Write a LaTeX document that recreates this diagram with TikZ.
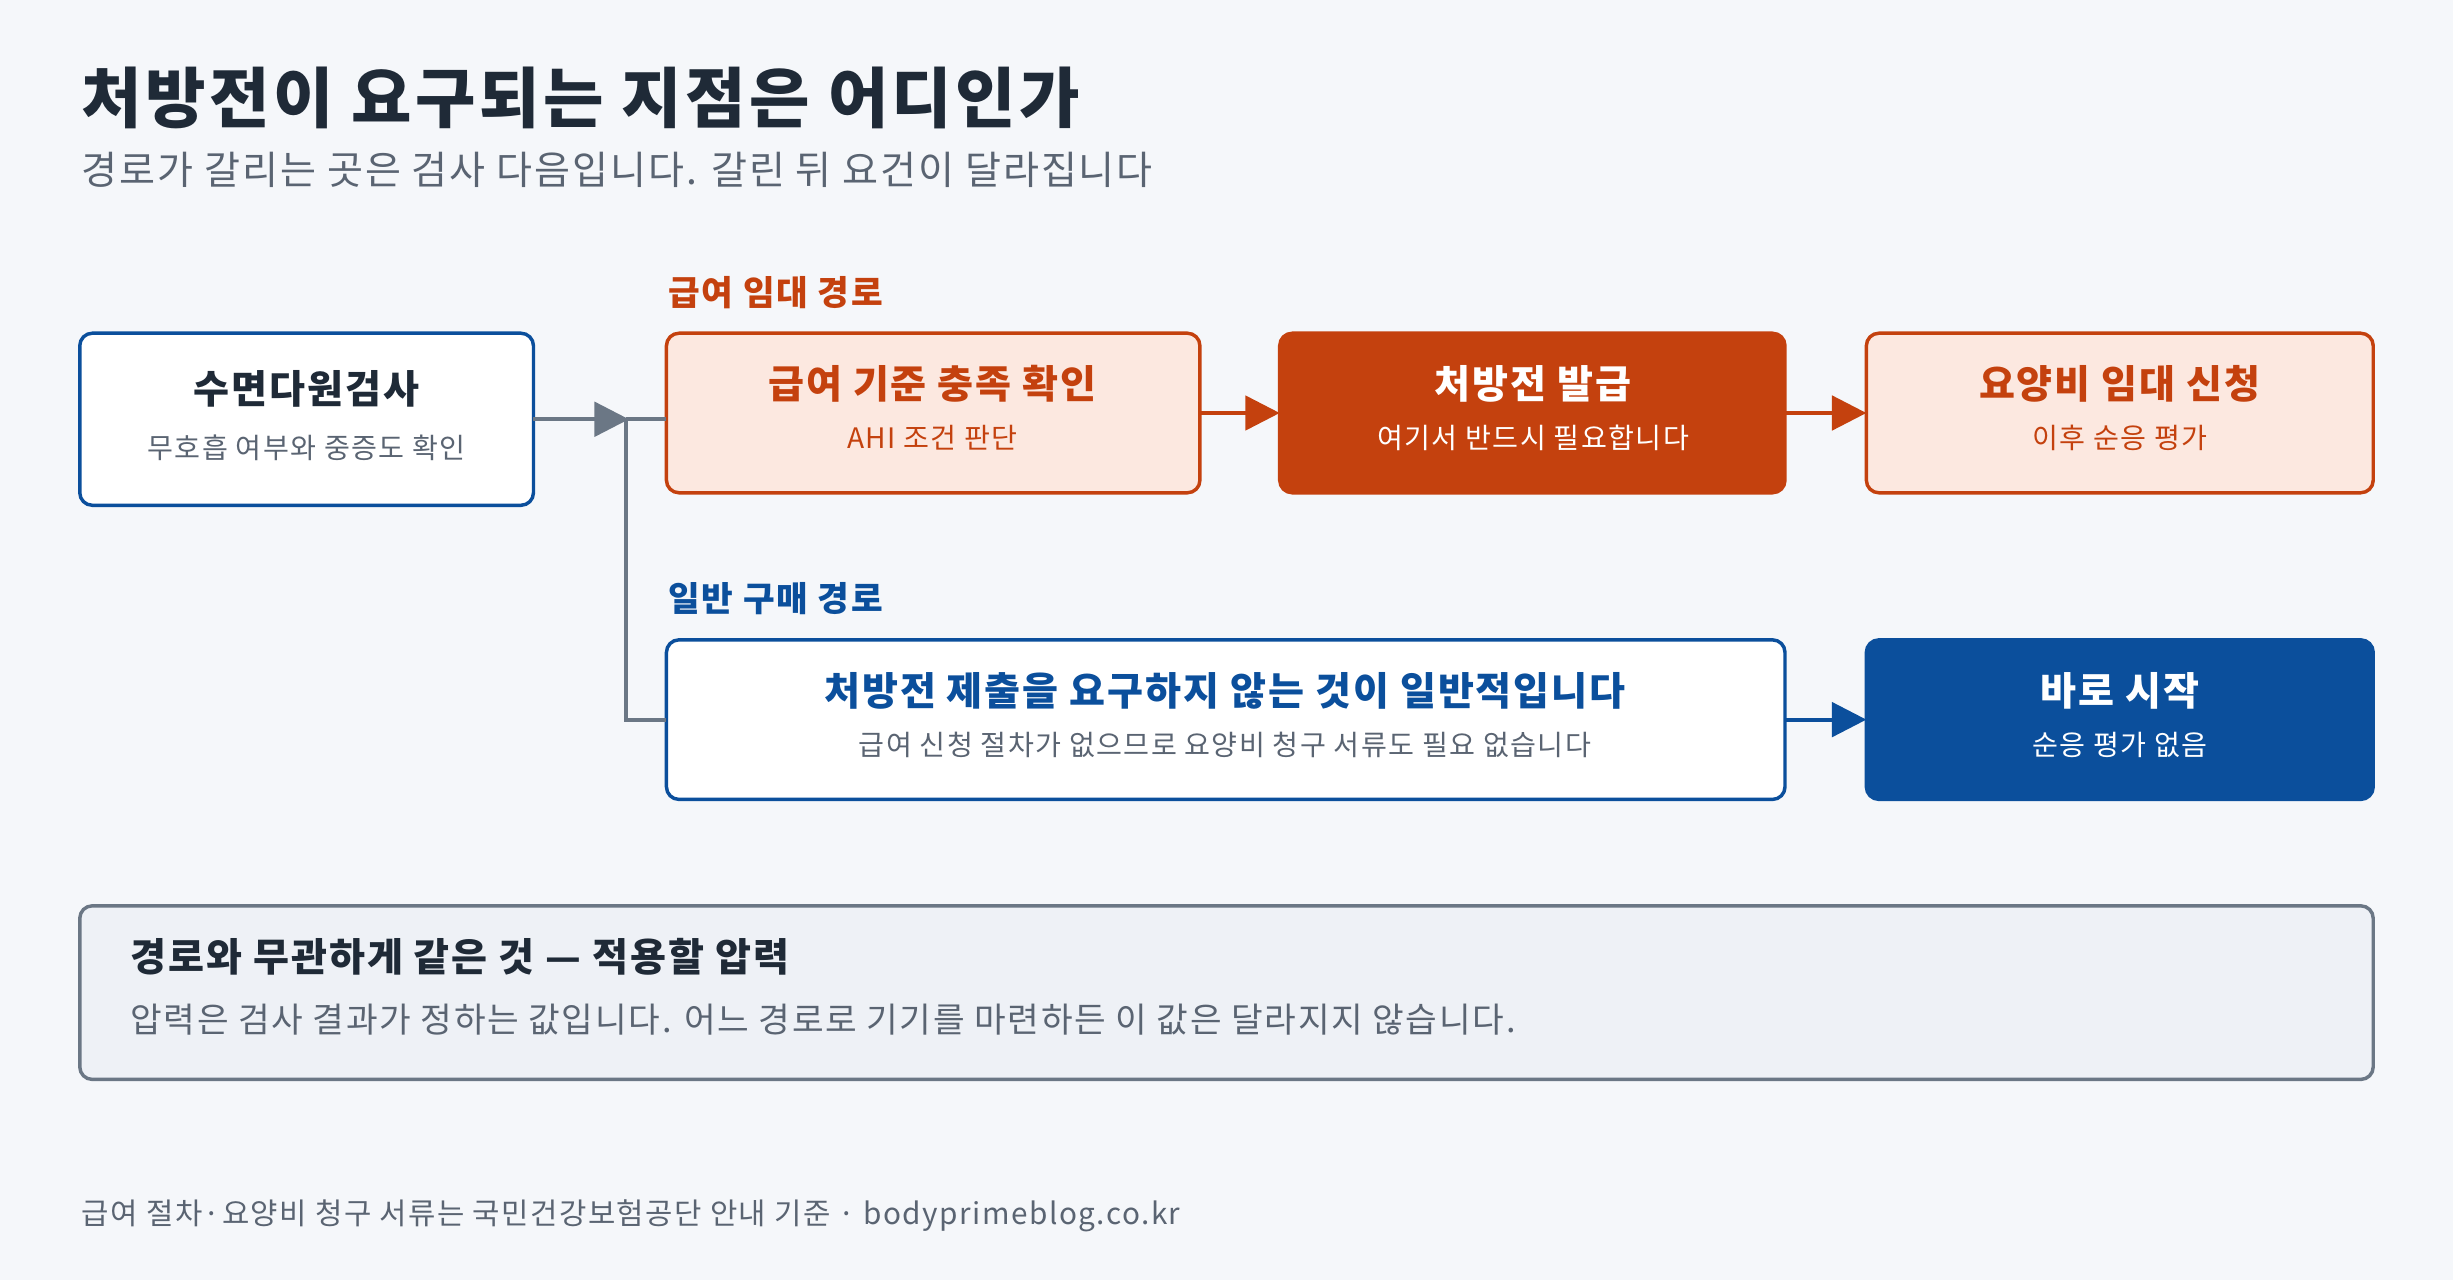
\documentclass[tikz,border=0pt]{standalone}
\usepackage{fontspec}
\setmainfont{Noto Sans CJK KR}[LetterSpace=5]
\usetikzlibrary{arrows.meta}
\definecolor{bg}{HTML}{F5F7FA}
\definecolor{ink}{HTML}{1F2A37}
\definecolor{gr}{HTML}{5A6472}
\definecolor{org}{HTML}{C4410E}
\definecolor{orgl}{HTML}{FCE8E0}
\definecolor{blu}{HTML}{0B4F9C}
\definecolor{lin}{HTML}{6B7785}
\definecolor{nb}{HTML}{EEF1F6}
\begin{document}
\begin{tikzpicture}[x=0.5pt,y=-0.5pt,
 box/.style={rounded corners=4pt,line width=1.1pt},
 t/.style={anchor=base,font=\fontsize{12.5}{14}\selectfont\bfseries},
 s/.style={anchor=base,font=\fontsize{9}{11}\selectfont},
 arr/.style={line width=1.2pt,-{Triangle[length=11pt,width=11pt]}}]
\fill[bg] (0,0) rectangle (1568,818);
\useasboundingbox (0,0) rectangle (1568,818);
\node[anchor=base west,inner sep=0,text=ink,font=\fontsize{21}{24}\selectfont\bfseries] (title) at (52,78) {처방전이 요구되는 지점은 어디인가};
\node[anchor=base west,inner sep=0,text=gr,font=\fontsize{12.5}{14}\selectfont] (sub) at (52,118) {경로가 갈리는 곳은 검사 다음입니다. 갈린 뒤 요건이 달라집니다};
% boxes
\draw[box,draw=blu,fill=white] (51,213) rectangle (341,323); \coordinate (b1r) at (341,268);
\node[t,text=ink] (b1t) at (196,258) {수면다원검사};
\node[s,text=gr] (b1s) at (196,293) {무호흡 여부와 중증도 확인};
\node[anchor=base west,inner sep=0,text=org,font=\fontsize{11}{13}\selectfont\bfseries] (l1) at (427,195) {급여 임대 경로};
\draw[box,draw=org,fill=orgl] (426,213) rectangle (767,315);
\node[t,text=org] (b2t) at (596,255) {급여 기준 충족 확인};
\node[s,text=org] (b2s) at (596,287) {AHI 조건 판단};
\draw[box,draw=org,fill=org] (818,213) rectangle (1141,315);
\node[t,text=white] (b3t) at (980,255) {처방전 발급};
\node[s,text=white] (b3s) at (980,287) {여기서 반드시 필요합니다};
\draw[box,draw=org,fill=orgl] (1193,213) rectangle (1517,315);
\node[t,text=org] (b4t) at (1355,255) {요양비 임대 신청};
\node[s,text=org] (b4s) at (1355,287) {이후 순응 평가};
\node[anchor=base west,inner sep=0,text=blu,font=\fontsize{11}{13}\selectfont\bfseries] (l2) at (427,391) {일반 구매 경로};
\draw[box,draw=blu,fill=white] (426,409) rectangle (1141,511);
\node[t,text=blu] (b5t) at (783,451) {처방전 제출을 요구하지 않는 것이 일반적입니다};
\node[s,text=gr] (b5s) at (783,483) {급여 신청 절차가 없으므로 요양비 청구 서류도 필요 없습니다};
\draw[box,draw=blu,fill=blu] (1193,409) rectangle (1517,511);
\node[t,text=white] (b6t) at (1355,451) {바로 시작};
\node[s,text=white] (b6s) at (1355,483) {순응 평가 없음};
% connectors
\coordinate (br) at (402,268);
\draw[arr,draw=lin,fill=lin] (b1r) -- (br);
\draw[lin,line width=1.2pt] (400,268) -- (426,268);
\draw[lin,line width=1.2pt] (400,268) -- (400,460) -- (426,460);
\draw[arr,draw=org,fill=org] (767,264) -- (818,264);
\draw[arr,draw=org,fill=org] (1141,264) -- (1193,264);
\draw[arr,draw=blu,fill=blu] (1141,460) -- (1193,460);
% note
\draw[box,draw=lin,fill=nb] (51,579) rectangle (1517,690);
\node[anchor=base west,inner sep=0,text=ink,font=\fontsize{12.5}{14}\selectfont\bfseries] (nt) at (83,621) {경로와 무관하게 같은 것 — 적용할 압력};
\node[anchor=base west,inner sep=0,text=gr,font=\fontsize{11}{13}\selectfont] (nb) at (83,660) {압력은 검사 결과가 정하는 값입니다. 어느 경로로 기기를 마련하든 이 값은 달라지지 않습니다.};
\node[anchor=base west,inner sep=0,text=gr,font=\fontsize{9.5}{11}\selectfont] (foot) at (52,783) {급여 절차·요양비 청구 서류는 국민건강보험공단 안내 기준 · bodyprimeblog.co.kr};
\end{tikzpicture}
\end{document}
